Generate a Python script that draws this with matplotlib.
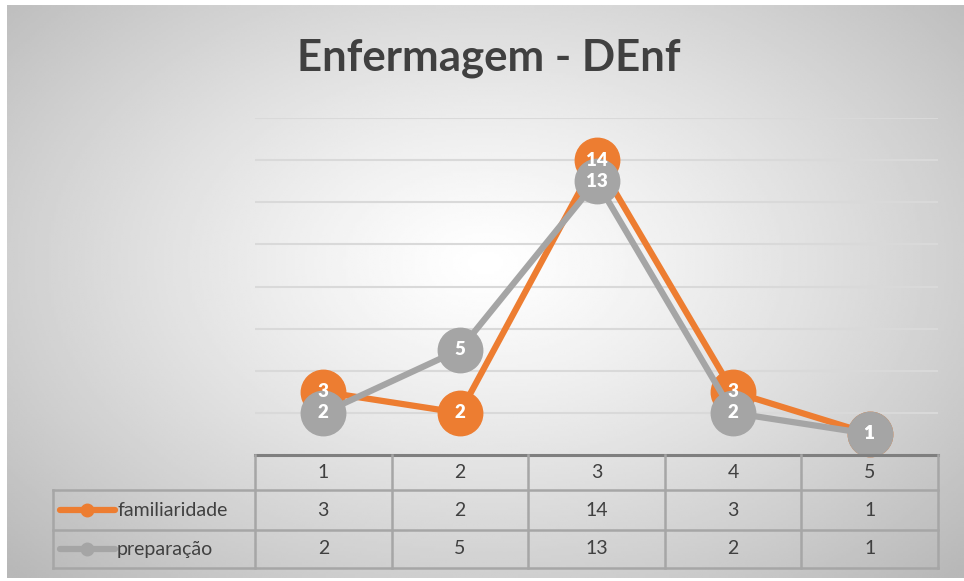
import numpy as np
import matplotlib
matplotlib.use("Agg")
import matplotlib.pyplot as plt
from matplotlib.lines import Line2D

plt.rcParams["font.family"] = ["Lato", "DejaVu Sans"]

# chart data
categories = ["1", "2", "3", "4", "5"]
familiaridade = [3, 2, 14, 3, 1]
preparacao = [2, 5, 13, 2, 1]
series_names = ["familiaridade", "preparação"]
title = "Enfermagem - DEnf"

ORANGE = "#ED7D31"
GRAY = "#A5A5A5"
TEXT = "#404040"

W, H = 964, 581
fig = plt.figure(figsize=(W / 100, H / 100), dpi=100)


def px_rect(x0, y0, x1, y1):
    # pixel box (top-left origin) -> figure fraction rect
    return [x0 / W, (H - y1) / H, (x1 - x0) / W, (y1 - y0) / H]


# radial gradient background
bg = fig.add_axes(px_rect(7, 5, 964, 578))
bg.set_axis_off()
gx, gy = np.meshgrid(np.linspace(-1, 1, 400), np.linspace(-1, 1, 240))
cx, cy = 0.0, -0.1
r = np.sqrt(((gx - cx) / 1.0) ** 2 + ((gy - cy) / 1.1) ** 2) / 1.4
r = np.clip(r, 0, 1)
shade = 1.0 - 0.28 * r ** 1.2
bg.imshow(shade, cmap="gray", vmin=0, vmax=1, aspect="auto",
          extent=[0, 1, 0, 1], origin="upper")
bg.set_xlim(0, 1)
bg.set_ylim(0, 1)

fig.text(489 / W, 1 - 58 / H, title, ha="center", va="center",
         fontsize=31.5, fontweight="bold", color=TEXT)

# plot area
ax = fig.add_axes(px_rect(255, 118, 938, 455))
ax.set_facecolor("none")
x = np.arange(len(categories))
ax.set_xlim(-0.5, len(categories) - 0.5)
ax.set_ylim(0, 16)
for yv in range(2, 17, 2):
    ax.axhline(yv, color="#D9D9D9", lw=1.5, zorder=0)
for s in ax.spines.values():
    s.set_visible(False)
ax.set_xticks([])
ax.set_yticks([])

for vals, col in [(familiaridade, ORANGE), (preparacao, GRAY)]:
    ax.plot(x, vals, color=col, lw=4.5, marker="o", ms=32,
            markeredgecolor=col, solid_capstyle="round", zorder=3,
            clip_on=False)
    for xi, v in zip(x, vals):
        ax.text(xi, v, str(v), ha="center", va="center", color="white",
                fontsize=13.5, fontweight="heavy", zorder=4)

# data table under the plot
tb = fig.add_axes([0, 0, 1, 1])
tb.set_axis_off()
tb.set_xlim(0, W)
tb.set_ylim(H, 0)
col_edges = np.linspace(255, 938, len(categories) + 1)
row_edges = [455, 490, 530, 568]
tcol = "#A6A6A6"
lw = 1.8
tb.plot([255, 938], [455, 455], color="#7F7F7F", lw=2.2)
for yy in row_edges[1:]:
    tb.plot([53, 938], [yy, yy], color=tcol, lw=lw)
for xx in col_edges:
    tb.plot([xx, xx], [455, 568], color=tcol, lw=lw)
tb.plot([53, 53], [490, 568], color=tcol, lw=lw)

centers = (col_edges[:-1] + col_edges[1:]) / 2
for cxp, c in zip(centers, categories):
    tb.text(cxp, 473, c, ha="center", va="center", fontsize=14, color=TEXT)
rows = [familiaridade, preparacao]
for ri, (name, vals, col) in enumerate(zip(series_names, rows, [ORANGE, GRAY])):
    ym = (row_edges[ri + 1] + row_edges[ri + 2]) / 2
    tb.add_line(Line2D([60, 115], [ym, ym], color=col, lw=4.5,
                       solid_capstyle="round"))
    tb.plot([87], [ym], marker="o", ms=9, color=col)
    tb.text(117, ym, name, ha="left", va="center", fontsize=14, color=TEXT)
    for cxp, v in zip(centers, vals):
        tb.text(cxp, ym, str(v), ha="center", va="center", fontsize=14,
                color=TEXT)

fig.savefig("out.png", dpi=100)
